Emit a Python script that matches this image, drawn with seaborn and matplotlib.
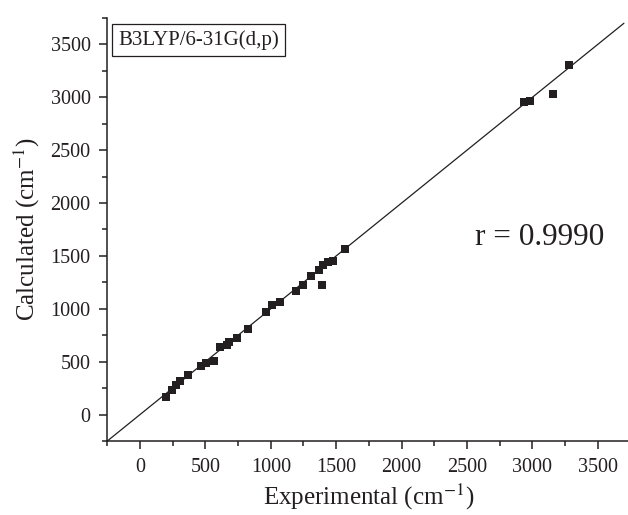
import matplotlib
matplotlib.use("Agg")
import matplotlib.pyplot as plt
import seaborn as sns
import pandas as pd
from matplotlib.ticker import MultipleLocator

experimental = [200, 246, 277, 307, 366, 468, 506, 564, 608, 664, 684, 740, 824,
                965, 1011, 1072, 1189, 1245, 1309, 1372, 1390, 1400, 1440, 1479, 1569,
                2934, 2985, 3156, 3278]
calculated = [170, 234, 281, 319, 375, 461, 492, 511, 643, 659, 690, 722, 811,
              974, 1038, 1063, 1173, 1227, 1312, 1369, 1227, 1410, 1440, 1454, 1568,
              2952, 2968, 3030, 3308]
ideal_line = [-250, 3700]
tick_values = [0, 500, 1000, 1500, 2000, 2500, 3000, 3500]

df = pd.DataFrame({"Experimental": experimental, "Calculated": calculated})

sns.set_theme(style="ticks")
plt.rcParams["font.family"] = ["Liberation Serif", "DejaVu Serif"]
plt.rcParams["mathtext.fontset"] = "stix"

fig = plt.figure(figsize=(6.28, 5.15), dpi=100)
ax = fig.add_axes([0.1709, 0.1437, 0.833, 0.8214])

ax.plot(ideal_line, ideal_line, color="#231f20", lw=0.9, zorder=1)
sns.scatterplot(data=df, x="Experimental", y="Calculated", marker="s", s=36,
                color="#231f20", edgecolor="#231f20", linewidth=0, ax=ax, zorder=2)

ax.set_xlim(-250, 3750)
ax.set_ylim(-250, 3750)
ax.set_xticks(tick_values)
ax.set_yticks(tick_values)
ax.xaxis.set_minor_locator(MultipleLocator(250))
ax.yaxis.set_minor_locator(MultipleLocator(250))
ax.tick_params(which="major", direction="out", length=6, width=1.1, labelsize=14.5,
               colors="#231f20", pad=6)
ax.tick_params(which="minor", direction="out", length=3.5, width=1.1, colors="#231f20")
for side in ["top", "right"]:
    ax.spines[side].set_visible(False)
for side in ["left", "bottom"]:
    ax.spines[side].set_linewidth(1.1)
    ax.spines[side].set_color("#231f20")

ax.set_xlabel("Experimental (cm$^{-1}$)", fontsize=18, color="#231f20", labelpad=4)
ax.set_ylabel("Calculated (cm$^{-1}$)", fontsize=18, color="#231f20", labelpad=6)

ax.text(0.0205, 0.972, "B3LYP/6-31G(d,p)", transform=ax.transAxes, fontsize=15,
        va="top", ha="left", color="#231f20",
        bbox=dict(boxstyle="square,pad=0.3", facecolor="white", edgecolor="#231f20", lw=0.9))
ax.text(0.703, 0.482, "r = 0.9990", transform=ax.transAxes, fontsize=22.5,
        va="center", ha="left", color="#231f20")

fig.savefig("out.png", dpi=100)
